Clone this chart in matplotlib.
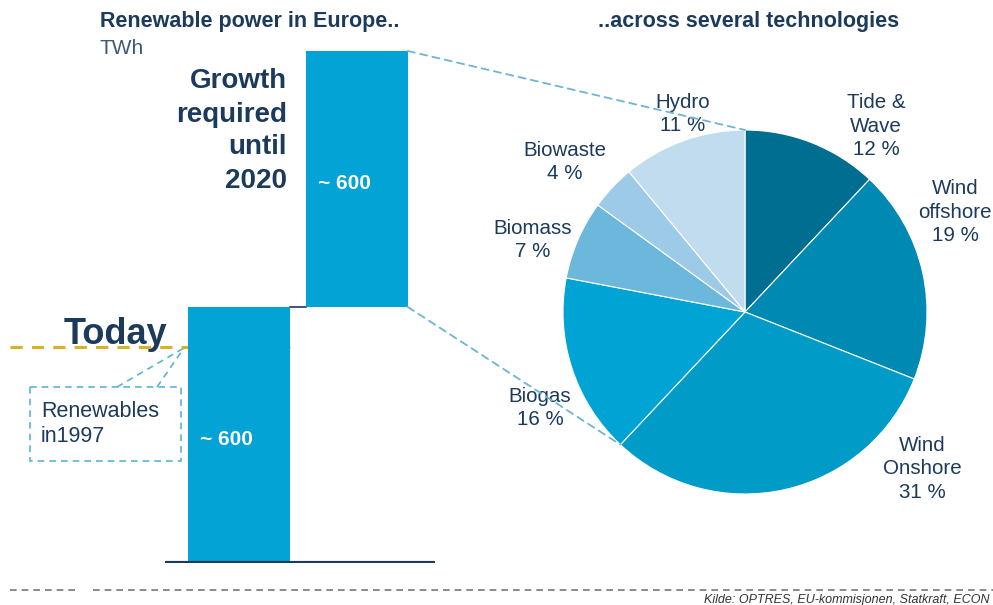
import math
import matplotlib.pyplot as plt
from matplotlib.patches import ConnectionPatch, Rectangle

plt.rcParams['font.family'] = ['Liberation Sans', 'DejaVu Sans']

# waterfall data (TWh)
bar_names = ['1997', 'Growth to 2020']
bar_values = [600, 600]
bar_labels = ['~ 600', '~ 600']

# technology split of the growth
techs = ['Tide &\nWave', 'Wind\noffshore', 'Wind\nOnshore', 'Biogas', 'Biomass', 'Biowaste', 'Hydro']
shares = [12, 19, 31, 16, 7, 4, 11]
pie_colors = ['#006e91', '#0089b3', '#009bc6', '#00a4d4', '#6cb7dc', '#9dcbe7', '#c2dcef']

navy = '#1b3a5c'
bar_col = '#03a3d5'
W, H = 993, 605

fig = plt.figure(figsize=(W / 100, H / 100), dpi=100)

def px_axes(x0, y0, x1, y1):
    # axes placed by pixel box (top-left origin)
    return fig.add_axes([x0 / W, 1 - y1 / H, (x1 - x0) / W, (y1 - y0) / H])

# overlay for texts and decorations
ov = px_axes(0, 0, W, H)
ov.set_xlim(0, W)
ov.set_ylim(H, 0)
ov.axis('off')

# bars
bx = px_axes(165, 51, 435, 563)
bx.set_ylim(0, sum(bar_values))
bx.set_xlim(-0.627, 1.661)
bottoms = [0, bar_values[0]]
bars = bx.bar([0, 1], bar_values, bottom=bottoms, width=0.86, color=bar_col, zorder=2)
bx.axis('off')
bx.axhline(0, color=navy, lw=3, zorder=3)
bx.plot([0.43, 0.57], [bar_values[0], bar_values[0]], color=navy, lw=1.2, zorder=1)
for b, lab in zip(bars, bar_labels):
    bx.text(b.get_x() + 0.1, b.get_y() + b.get_height() / 2 - 10, lab, color='white',
            fontsize=15, fontweight='bold', ha='left', va='center', zorder=4)

# pie
px = px_axes(745 - 182, 312 - 182, 745 + 182, 312 + 182)
px.pie(shares, colors=pie_colors, startangle=90, counterclock=False,
       wedgeprops=dict(edgecolor='white', linewidth=0.8))
px.set_xlim(-1, 1)
px.set_ylim(-1, 1)

# dashed connectors from growth bar to pie
ang = math.radians(360 * sum(shares[:3]) / 100)
top_con = ConnectionPatch(xyA=(1.43, sum(bar_values)), coordsA=bx.transData,
                          xyB=(0, 1), coordsB=px.transData,
                          color='#6bb5d6', lw=1.3, ls=(0, (4, 3)))
bot_con = ConnectionPatch(xyA=(1.43, bar_values[0]), coordsA=bx.transData,
                          xyB=(math.sin(ang), math.cos(ang)), coordsB=px.transData,
                          color='#6bb5d6', lw=1.3, ls=(0, (4, 3)))
fig.add_artist(top_con)
fig.add_artist(bot_con)

# pie labels
lab_pos = [(876, 126), (955, 212), (922, 469), (540, 408), (533, 240), (565, 162), (683, 114)]
for t, s, (x, y) in zip(techs, shares, lab_pos):
    ov.text(x, y, f'{t}\n{s} %', ha='center', va='center', fontsize=14.8,
            color=navy, linespacing=1.32)

# titles
ov.text(100, 22, 'Renewable power in Europe..', fontsize=15.5, fontweight='bold',
        color=navy, va='center')
ov.text(100, 48, 'TWh', fontsize=15, color='#3c5a78', va='center')
ov.text(598, 22, '..across several technologies', fontsize=15.5, fontweight='bold',
        color=navy, va='center')
ov.text(287, 131, 'Growth\nrequired\nuntil\n2020', fontsize=20, fontweight='bold',
        color=navy, ha='right', va='center', linespacing=1.35)

# today marker
ov.text(64, 334, 'Today', fontsize=26, fontweight='bold', color=navy, va='center')
ov.plot([10, 290], [347, 347], color='#d6b22a', lw=2.2, ls=(0, (4, 3)), zorder=5)

# callout box
ov.add_patch(Rectangle((30, 387), 151, 74, fill=False, ec='#5ab4d6', lw=1.2, ls=(0, (4, 3))))
ov.plot([117, 184], [387, 348], color='#5ab4d6', lw=1.2, ls=(0, (4, 3)))
ov.plot([157, 184], [387, 348], color='#5ab4d6', lw=1.2, ls=(0, (4, 3)))
ov.text(41, 424, 'Renewables\nin1997', fontsize=15.5, color=navy, va='center', linespacing=1.25)

# footer
ov.plot([10, 75], [590, 590], color='#777777', lw=1.2, ls=(0, (4, 3)))
ov.plot([93, 993], [590, 590], color='#777777', lw=1.2, ls=(0, (4, 3)))
ov.text(990, 600, 'Kilde: OPTRES, EU-kommisjonen, Statkraft, ECON', fontsize=9,
        style='italic', color='#333333', ha='right', va='center')

fig.savefig('out.png', dpi=100)
